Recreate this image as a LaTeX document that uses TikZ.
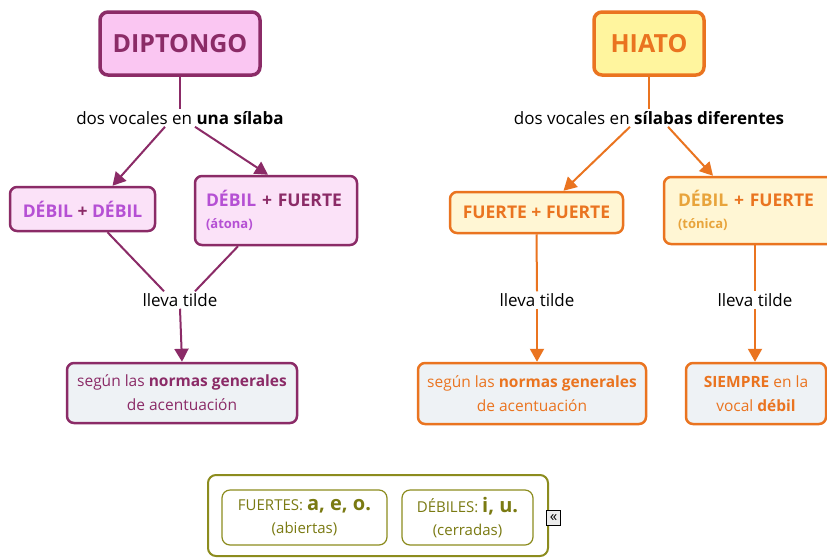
\documentclass[tikz,border=0pt]{standalone}
\usepackage{fontspec}
\setmainfont{Open Sans}
\usetikzlibrary{arrows.meta}
\definecolor{dmag}{HTML}{8B2B67}
\definecolor{dviol}{HTML}{B550D4}
\definecolor{pinkT}{HTML}{FAC6F2}
\definecolor{pinkB}{HTML}{FBE2F8}
\definecolor{grayB}{HTML}{EEF2F5}
\definecolor{orng}{HTML}{EA7420}
\definecolor{yorng}{HTML}{E8A43C}
\definecolor{yelT}{HTML}{FFF59E}
\definecolor{yelB}{HTML}{FFF6D4}
\definecolor{olive}{HTML}{8C8C1E}
\definecolor{olivT}{HTML}{7A7A12}
\newcommand\bbig{\fontsize{17.5}{20}\selectfont\bfseries}
\newcommand\bsmall{\fontsize{13}{16}\selectfont\bfseries}
\begin{document}
\begin{tikzpicture}[x=1pt,y=-1pt,
  title/.style={rounded corners=8pt, line width=3.5pt, font=\fontsize{25}{30}\selectfont\bfseries, inner sep=0pt},
  boxx/.style={rounded corners=7pt, line width=2.5pt, inner sep=0pt},
  lbl/.style={font=\fontsize{17}{20}\selectfont, inner sep=2pt},
  dline/.style={draw=dmag, line width=2pt},
  darr/.style={dline, -{Triangle[length=13pt,width=14pt]}},
  oline/.style={draw=orng, line width=2pt},
  oarr/.style={oline, -{Triangle[length=13pt,width=14pt]}},
  btext/.style={font=\bbig},
  gtext/.style={font=\fontsize{15.5}{24}\selectfont, align=center}
]
\useasboundingbox (0,0) rectangle (827,558);
\clip (0,0) rectangle (827,558);
\fill[white] (0,0) rectangle (827,558);

% ---------- DIPTONGO ----------
\node[title, draw=dmag, fill=pinkT, text=dmag, minimum width=160pt, minimum height=63pt] (dip) at (180,43.5) {DIPTONGO};
\node[lbl] (lab1) at (180,118) {dos vocales en \textbf{una sílaba}};
\node[boxx, draw=dmag, fill=pinkB, btext, text=dviol, minimum width=145pt, minimum height=44pt] (dd) at (82.5,209) {DÉBIL {\color{dmag}+} DÉBIL};
\node[boxx, draw=dmag, fill=pinkB, minimum height=69pt, text width=140pt, inner xsep=11pt, align=left, text=dmag, font=\bbig] (df) at (276,210.5)
  {{\color{dviol}DÉBIL} + FUERTE\\[2pt]{\bsmall\color{dviol}(átona)}};
\node[lbl] (ll1) at (180,300) {lleva tilde};
\node[boxx, draw=dmag, fill=grayB, gtext, text=dmag, minimum width=230pt, minimum height=60pt] (gen1) at (182,393)
  {según las \textbf{normas generales}\\de acentuación};

\draw[dline] (dip.south) -- (lab1.north);
\draw[darr] ([xshift=-15pt]lab1.south) -- ([xshift=30pt]dd.north);
\draw[darr] ([xshift=15pt]lab1.south) -- ([xshift=-8pt]df.north);
\draw[dline] ([xshift=25pt]dd.south) -- ([xshift=-16pt]ll1.north);
\draw[dline] ([xshift=-38pt]df.south) -- ([xshift=15pt]ll1.north);
\draw[darr] (ll1.south) -- (gen1.north);

% ---------- HIATO ----------
\node[title, draw=orng, fill=yelT, text=orng, minimum width=110pt, minimum height=63pt] (hia) at (649,43.5) {HIATO};
\node[lbl] (lab2) at (649,118) {dos vocales en \textbf{sílabas diferentes}};
\node[boxx, draw=orng, fill=yelB, btext, text=orng, minimum width=173pt, minimum height=41pt] (ff) at (536.5,212.5) {FUERTE + FUERTE};
\node[boxx, draw=orng, fill=yelB, minimum height=67pt, text width=154pt, inner xsep=14pt, align=left, text=orng, font=\bbig] (df2) at (755,210.5)
  {{\color{yorng}DÉBIL} + FUERTE\\[2pt]{\bsmall\color{yorng}(tónica)}};
\node[lbl] (ll2) at (537,300) {lleva tilde};
\node[lbl] (ll3) at (755,300) {lleva tilde};
\node[boxx, draw=orng, fill=grayB, gtext, text=orng, minimum width=228pt, minimum height=61pt] (gen2) at (532,393.5)
  {según las \textbf{normas generales}\\de acentuación};
\node[boxx, draw=orng, fill=grayB, gtext, text=orng, minimum width=140pt, minimum height=61pt] (siem) at (756,393.5)
  {\textbf{SIEMPRE} en la\\vocal \textbf{débil}};

\draw[oline] (hia.south) -- (lab2.north);
\draw[oarr] ([xshift=-19pt]lab2.south) -- ([xshift=27pt]ff.north);
\draw[oarr] ([xshift=19pt]lab2.south) -- ([xshift=-42pt]df2.north);
\draw[oline] (ff.south) -- (ll2.north);
\draw[oarr] (ll2.south) -- (ll2.south |- gen2.north);
\draw[oline] (df2.south) -- (ll3.north);
\draw[oarr] (ll3.south) -- (ll3.south |- siem.north);

% ---------- Legend ----------
\node[draw=olive, line width=2pt, rounded corners=8pt, fill=white, minimum width=340pt, minimum height=81pt] (leg) at (378,515.5) {};
\node[draw=olive, line width=1.2pt, rounded corners=8pt, fill=white, minimum width=165pt, minimum height=55pt, inner sep=0pt, align=center, text=olivT, font=\fontsize{15}{23}\selectfont] (fu) at (304.5,517.5)
  {FUERTES: {\fontsize{20}{20}\selectfont\bfseries a, e, o.}\\(abiertas)};
\node[draw=olive, line width=1.2pt, rounded corners=8pt, fill=white, minimum width=131pt, minimum height=55pt, inner sep=0pt, align=center, text=olivT, font=\fontsize{15}{23}\selectfont] (de) at (467.5,517.5)
  {DÉBILES: {\fontsize{20}{20}\selectfont\bfseries i, u.}\\(cerradas)};
\node[draw=black, line width=0.7pt, fill=gray!15, minimum width=14pt, minimum height=15pt, inner sep=0pt, font=\fontsize{15}{15}\selectfont] (ico) at (553.5,517.5) {«};
\end{tikzpicture}
\end{document}
